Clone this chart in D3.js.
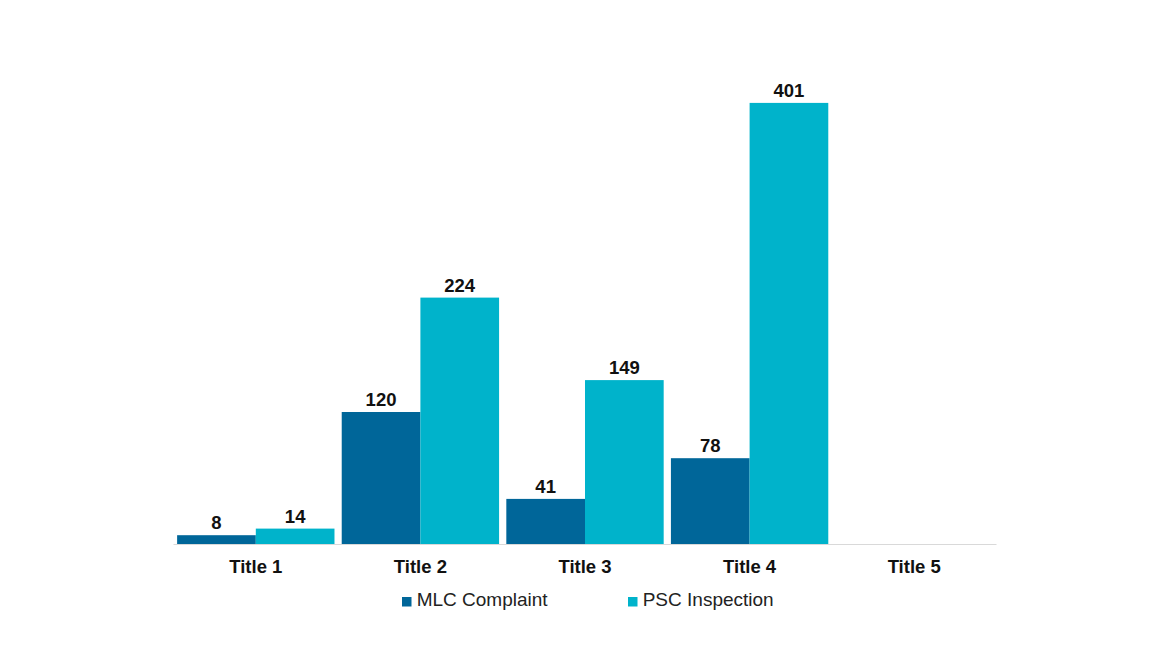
<!DOCTYPE html>
<html><head><meta charset="utf-8">
<script src="https://cdn.jsdelivr.net/npm/d3@7"></script>
<style>body{margin:0;background:#fff;}svg{display:block;font-family:"Liberation Sans",Arial,sans-serif;}</style>
</head><body><svg id="c" width="1170" height="658"></svg>
<script>
const categories = ["Title 1","Title 2","Title 3","Title 4","Title 5"];
const seriesNames = ["MLC Complaint","PSC Inspection"];
const mlcValues = [8,120,41,78,null];
const pscValues = [14,224,149,401,null];
const colors = ["#006699","#00B3CB"];

const svg = d3.select("#c");
const x = d3.scaleBand().domain(categories).range([173.5,996.5]).paddingInner(0).paddingOuter(0);
const y = d3.scaleLinear().domain([0,450]).range([544,49]);
const sub = d3.scaleBand().domain(seriesNames).range([0,x.bandwidth()]).paddingOuter(0.046).paddingInner(0);

const data = [];
categories.forEach((c,i)=>{
  [mlcValues,pscValues].forEach((arr,j)=>{
    if(arr[i]!=null) data.push({c, s:seriesNames[j], v:arr[i], color:colors[j]});
  });
});

svg.append("line").attr("x1",x.range()[0]).attr("x2",x.range()[1]).attr("y1",y(0)+0.5).attr("y2",y(0)+0.5)
  .attr("stroke","#d9d9d9").attr("stroke-width",1);

svg.selectAll("rect.bar").data(data).enter().append("rect").attr("class","bar")
  .attr("x",d=>x(d.c)+sub(d.s)).attr("width",sub.bandwidth())
  .attr("y",d=>y(d.v)).attr("height",d=>y(0)-y(d.v)).attr("fill",d=>d.color);

svg.selectAll("text.lbl").data(data).enter().append("text").attr("class","lbl")
  .attr("x",d=>x(d.c)+sub(d.s)+sub.bandwidth()/2).attr("y",d=>y(d.v)-6)
  .attr("text-anchor","middle").attr("font-size",18.5).attr("font-weight","bold").attr("fill","#111")
  .text(d=>d.v);

const xAxis = svg.append("g").attr("transform",`translate(0,${y(0)})`)
  .call(d3.axisBottom(x).tickSize(0).tickPadding(16));
xAxis.select(".domain").remove();
xAxis.selectAll("text").attr("font-size",18.5).attr("font-weight","bold").attr("fill","#111")
  .attr("font-family","'Liberation Sans',Arial,sans-serif");

const legendX = [402, 628];
const lg = svg.append("g");
seriesNames.forEach((n,i)=>{
  const g = lg.append("g").attr("transform",`translate(${legendX[i]},597)`);
  g.append("rect").attr("width",9.5).attr("height",9.5).attr("fill",colors[i]);
  g.append("text").attr("x",14.7).attr("y",9.3).attr("font-size",19).attr("fill","#222").text(n);
});
</script></body></html>
